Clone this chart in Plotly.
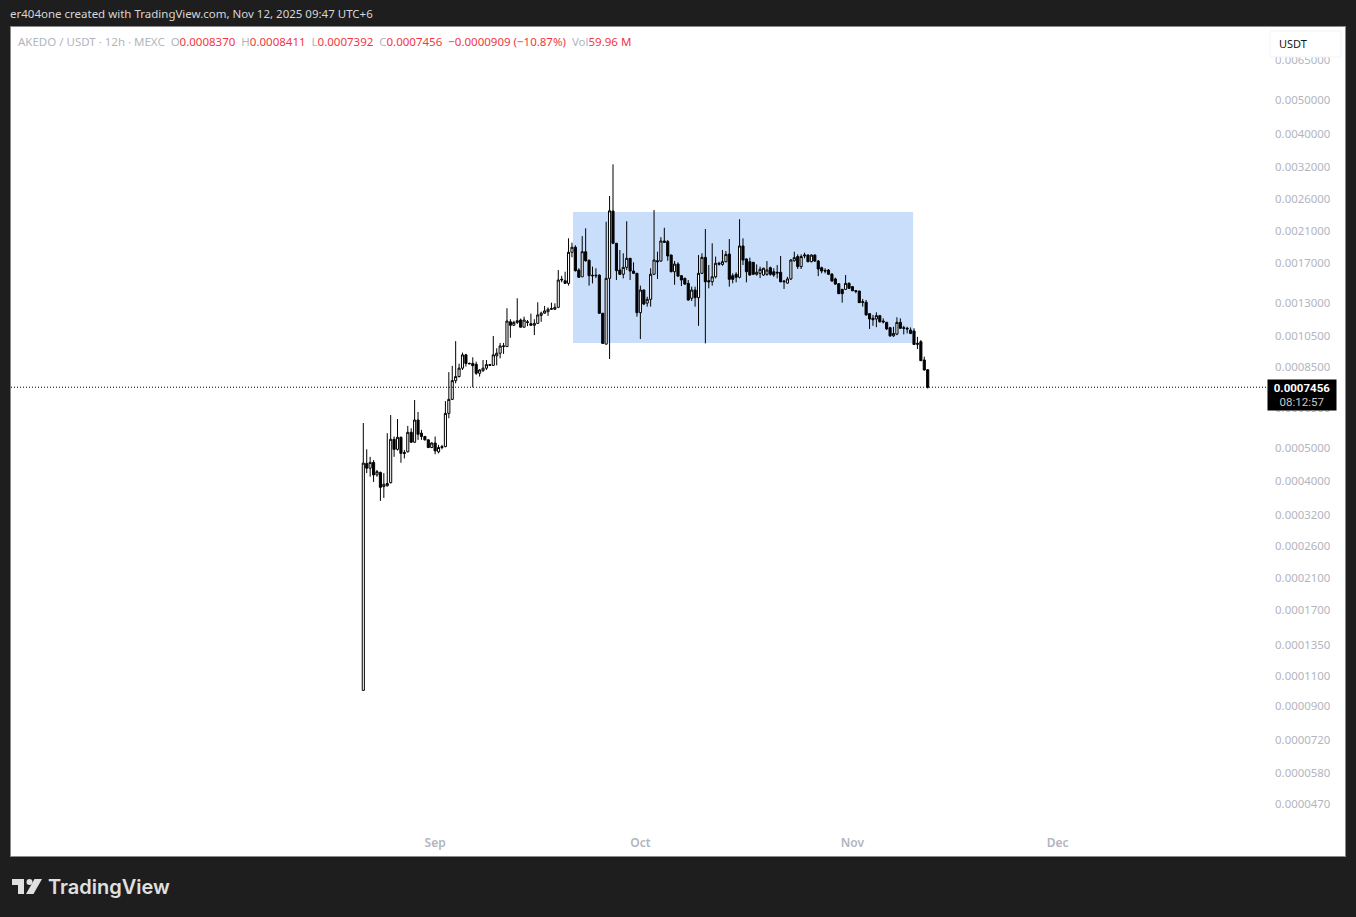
import numpy as np
import pandas as pd
import plotly.graph_objects as go

# 12h candles, prices in millionths of a USDT
opens = [100,450,436,453,417,424,386,388,396,528,
         494,535,484,486,553,518,600,550,538,526,
         500,515,486,500,503,627,688,779,800,846,
         924,873,873,868,818,832,846,866,862,918,
         934,976,976,1150,1124,1146,1164,1110,1150,1136,
         1124,1138,1200,1218,1230,1250,1250,1266,1517,1510,
         1484,1823,1885,1621,1550,1830,1730,1565,1561,1567,
         1217,992,1534,2396,1935,1621,1576,1650,1752,1610,
         1586,1222,1420,1302,1335,1576,1724,1720,1965,1956,
         1790,1603,1686,1561,1534,1484,1344,1420,1350,1586,
         1763,1510,1500,1550,1695,1682,1713,1802,1561,1576,
         1545,1901,1744,1713,1706,1576,1586,1568,1576,1646,
         1603,1597,1597,1507,1487,1528,1724,1772,1658,1779,
         1790,1713,1790,1720,1646,1617,1621,1578,1528,1480,
         1426,1426,1484,1452,1414,1410,1314,1309,1214,1177,
         1172,1198,1156,1146,1106,1048,1060,1146,1106,1102,
         1089,1082,997,1008,893,837]
highs = [588,494,470,460,431,426,422,550,620,538,
         604,538,492,577,568,685,633,562,540,528,
         518,538,509,509,680,824,859,1012,871,938,
         930,878,909,883,840,893,893,870,1047,965,
         1000,1000,1258,1170,1158,1344,1175,1190,1164,1214,
         1170,1309,1230,1278,1266,1306,1300,1621,1560,1603,
         2000,1943,1910,1640,2029,2137,1735,1658,1640,1575,
         1220,2233,2647,3265,1940,1851,1811,2240,1755,1706,
         1590,1462,1424,1358,1640,2412,1830,2015,2145,1978,
         1795,1720,1706,1568,1541,1517,1452,1452,1790,1811,
         2127,1675,1935,1772,1712,1851,1839,1990,1586,1597,
         2270,2000,1750,1760,1710,1682,1658,1646,1720,1658,
         1640,1675,1779,1517,1550,1744,1830,1798,1798,1819,
         1798,1798,1798,1732,1658,1640,1632,1586,1541,1484,
         1430,1568,1494,1458,1416,1413,1338,1329,1218,1204,
         1225,1204,1177,1150,1112,1113,1185,1177,1120,1113,
         1108,1102,1041,1019,913,841.1]
lows = [100,422,412,398,412,351,358,386,394,470,
        490,452,465,484,515,515,526,526,524,498,
        498,478,481,494,501,607,685,765,796,836,
        855,868,745,809,800,826,836,860,858,862,
        903,930,976,1035,1118,1134,1108,1108,1118,1122,
        1053,1134,1150,1214,1196,1244,1244,1260,1494,1478,
        1462,1764,1605,1540,1550,1713,1462,1484,1537,1214,
        995,990,899,1925,1517,1568,1534,1621,1517,1578,
        1190,1026,1285,1272,1272,1568,1528,1713,1943,1724,
        1597,1470,1550,1458,1470,1323,1320,1272,1120,1578,
        997,1436,1462,1534,1670,1668,1706,1452,1484,1494,
        1534,1675,1494,1561,1568,1561,1537,1561,1561,1561,
        1550,1534,1494,1430,1480,1517,1713,1632,1632,1752,
        1706,1706,1713,1557,1586,1586,1568,1500,1470,1382,
        1306,1420,1430,1410,1389,1303,1272,1198,1097,1120,
        1110,1146,1138,1090,1041,1041,1053,1097,1058,1065,
        1060,986,960,887,832,739.2]
closes = [451,436,453,417,426,384,392,394,528,494,
          535,481,481,553,518,600,546,538,526,500,
          515,489,500,503,627,688,779,800,846,924,
          873,871,860,818,836,846,866,862,924,934,
          980,980,1156,1124,1146,1158,1110,1164,1146,1124,
          1138,1204,1218,1236,1250,1255,1266,1517,1524,1484,
          1823,1885,1614,1545,1830,1724,1561,1561,1565,1217,
          997,1534,2400,1935,1614,1576,1650,1752,1610,1586,
          1222,1420,1294,1335,1576,1732,1713,1965,1948,1779,
          1603,1686,1557,1517,1477,1329,1420,1350,1586,1763,
          1500,1500,1550,1695,1686,1713,1798,1524,1524,1545,
          1901,1732,1603,1568,1576,1597,1629,1640,1621,1576,
          1568,1590,1500,1500,1528,1732,1760,1658,1772,1790,
          1713,1790,1720,1632,1610,1610,1576,1507,1477,1386,
          1386,1484,1436,1413,1408,1306,1309,1204,1172,1166,
          1198,1150,1150,1097,1048,1065,1146,1102,1102,1097,
          1065,990,992,889,836,745.6]

first_candle = "2025-08-21 12:00"
y_ticks = [0.0065,0.005,0.004,0.0032,0.0026,0.0021,0.0017,0.0013,0.00105,0.00085,
           0.00065,0.0005,0.0004,0.00032,0.00026,0.00021,0.00017,0.000135,0.00011,
           0.00009,0.000072,0.000058,0.000047]
x_ticks = ["2025-09-01", "2025-10-01", "2025-11-01", "2025-12-01"]
x_labels = ["Sep", "Oct", "Nov", "Dec"]
last_price = 0.0007456
box_from, box_to = "2025-09-21 03:36", "2025-11-09 20:54"
box_high, box_low = 0.002382, 0.000999

GREY = "#b2b5be"
RED = "#f23645"
FONT = "Noto Sans"

dates = pd.date_range(first_candle, periods=len(opens), freq="12h")
scale = 1e-6


# page pixels to paper fractions, the pane is 1334x829 at (11, 27)
def xp(px):
    return (px - 11) / 1334


def yp(py):
    return (856 - py) / 829


def poly(points):
    return "M" + " L".join(f"{xp(a)},{yp(b)}" for a, b in points) + " Z"


fig = go.Figure(go.Candlestick(
    x=dates,
    open=np.array(opens) * scale,
    high=np.array(highs) * scale,
    low=np.array(lows) * scale,
    close=np.array(closes) * scale,
    increasing=dict(line=dict(color="#000000", width=1), fillcolor="#ffffff"),
    decreasing=dict(line=dict(color="#000000", width=1), fillcolor="#000000"),
    showlegend=False,
))

shapes = [
    dict(type="rect", xref="x", yref="y", x0=box_from, x1=box_to, y0=box_low, y1=box_high,
         fillcolor="#c8defa", line=dict(width=0), layer="below"),
    dict(type="line", xref="paper", yref="y", x0=0, x1=xp(1267), y0=last_price, y1=last_price,
         line=dict(color="#000000", width=1, dash="1px,2px")),
    # currency button in the top right corner
    dict(type="rect", xref="paper", yref="paper", x0=xp(1270), x1=xp(1341), y0=yp(57), y1=yp(31),
         fillcolor="#ffffff", line=dict(color="#f0f3fa", width=1)),
    # logo
    dict(type="path", xref="paper", yref="paper", line=dict(width=0), fillcolor="#e0e0e0",
         path=poly([(12, 879), (24, 879), (24, 894), (18, 894), (18, 885), (12, 885)])),
    dict(type="circle", xref="paper", yref="paper", line=dict(width=0), fillcolor="#e0e0e0",
         x0=xp(26.5), x1=xp(32.5), y0=yp(885), y1=yp(879)),
    dict(type="path", xref="paper", yref="paper", line=dict(width=0), fillcolor="#e0e0e0",
         path=poly([(34.5, 879), (42, 879), (33.5, 894), (26, 894)])),
]

legend_text = (
    f"AKEDO / USDT · 12h · MEXC  O<span style='color:{RED}'>0.0008370</span>"
    f"  H<span style='color:{RED}'>0.0008411</span>"
    f"  L<span style='color:{RED}'>0.0007392</span>"
    f"  C<span style='color:{RED}'>0.0007456</span>"
    f"  <span style='color:{RED}'>−0.0000909 (−10.87%)</span>"
    f"  Vol<span style='color:{RED}'>59.96 M</span>"
)

annotations = [
    dict(x=xp(8), y=yp(14), xref="paper", yref="paper", xanchor="left", yanchor="middle",
         text="er404one created with TradingView.com, Nov 12, 2025 09:47 UTC+6",
         showarrow=False, font=dict(family=FONT, size=11.5, color="#d6d6d6")),
    dict(x=xp(16), y=yp(42), xref="paper", yref="paper", xanchor="left", yanchor="middle",
         text=legend_text, showarrow=False, font=dict(family=FONT, size=11.5, color=GREY)),
    dict(x=xp(1277), y=yp(44), xref="paper", yref="paper", xanchor="left", yanchor="middle",
         text="USDT", showarrow=False, font=dict(family=FONT, size=11, color="#131722")),
    dict(x=xp(1267), y=yp(379), xref="paper", yref="paper", xanchor="left", yanchor="top",
         text="<b>0.0007456</b><br><span style='color:#c8c8c8'>08:12:57</span>",
         showarrow=False, align="center", width=68, height=30, bgcolor="#000000", borderpad=0,
         font=dict(family="Roboto", size=11.5, color="#ffffff")),
    dict(x=xp(46), y=yp(887), xref="paper", yref="paper", xanchor="left", yanchor="middle",
         text="TradingView", showarrow=False,
         font=dict(family="Inter", size=20, color="#e0e0e0", weight=600)),
]

fig.update_layout(
    width=1356, height=917,
    autosize=False,
    margin=dict(l=11, r=11, t=27, b=61),
    paper_bgcolor="#1e1e1e",
    plot_bgcolor="#ffffff",
    boxgap=0.12,
    shapes=shapes,
    annotations=annotations,
    xaxis=dict(
        type="date",
        range=["2025-07-01 00:00", "2026-01-12 00:00"],
        rangeslider=dict(visible=False),
        showgrid=False, zeroline=False, ticks="",
        tickmode="array", tickvals=x_ticks, ticktext=x_labels,
        ticklabelposition="inside",
        ticklabelstandoff=6,
        tickfont=dict(family=FONT, size=12, color=GREY, weight=600),
        showline=True, linecolor="#8a8a8a", mirror=True,
    ),
    yaxis=dict(
        type="log", side="right",
        range=[-4.4766, -2.0908],
        showgrid=False, zeroline=False, ticks="",
        tickmode="array", tickvals=y_ticks,
        ticktext=[f"{v:.7f}" for v in y_ticks],
        ticklabelposition="inside",
        ticklabelstandoff=14,
        tickfont=dict(family=FONT, size=11.4, color=GREY),
        showline=True, linecolor="#8a8a8a", mirror=True,
    ),
)

# the browser's default body margin would push the figure 8px down and right
fig.write_html(
    "out.html",
    config=dict(displayModeBar=False),
    post_script="document.body.style.margin='0';document.body.style.overflow='hidden';",
)
